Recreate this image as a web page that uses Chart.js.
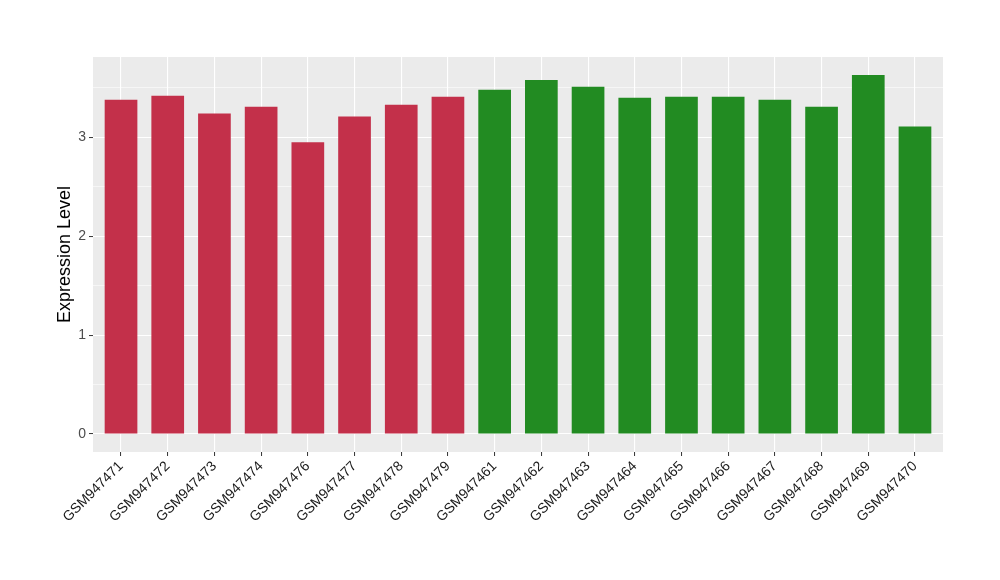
<!DOCTYPE html>
<html>
<head>
<meta charset="utf-8">
<script src="https://cdn.jsdelivr.net/npm/chart.js@4"></script>
<style>
  html, body { margin: 0; padding: 0; background: #fff; }
  #wrap { width: 1000px; height: 580px; }
</style>
</head>
<body>
<div id="wrap"><canvas id="chart" width="1000" height="580"></canvas></div>
<script>
// samples, in plotted order
var samples = ["GSM947471", "GSM947472", "GSM947473", "GSM947474", "GSM947476", "GSM947477",
  "GSM947478", "GSM947479", "GSM947461", "GSM947462", "GSM947463", "GSM947464",
  "GSM947465", "GSM947466", "GSM947467", "GSM947468", "GSM947469", "GSM947470"]
var expression = [3.38, 3.42, 3.24, 3.31, 2.95, 3.21, 3.33, 3.41, 3.48, 3.58,
  3.51, 3.40, 3.41, 3.41, 3.38, 3.31, 3.63, 3.11]
var groups = ["a", "a", "a", "a", "a", "a", "a", "a", "b", "b",
  "b", "b", "b", "b", "b", "b", "b", "b"]
var yTicks = [0, 1, 2, 3]

var groupColors = { a: "#C3304A", b: "#228B22" }

var panelBg = {
  id: "panelBg",
  beforeDraw(chart) {
    var a = chart.chartArea, ctx = chart.ctx
    ctx.save()
    ctx.fillStyle = "#EBEBEB"
    ctx.fillRect(a.left, a.top, a.right - a.left, a.bottom - a.top)
    ctx.restore()
  }
}

var ctx = document.getElementById("chart").getContext("2d")
var chart = new Chart(ctx, {
  type: "bar",
  data: {
    datasets: [{
      data: expression.map((v, i) => ({ x: i, y: v })),
      backgroundColor: groups.map(g => groupColors[g]),
      borderWidth: 0,
      barPercentage: 0.7,
      categoryPercentage: 1.0
    }]
  },
  plugins: [panelBg],
  options: {
    responsive: false,
    animation: false,
    layout: { padding: { top: 57, right: 57, left: 0, bottom: 0 } },
    plugins: { legend: { display: false }, tooltip: { enabled: false } },
    scales: {
      x: {
        type: "linear",
        offset: false,
        min: -0.6,
        max: 17.6,
        afterBuildTicks(scale) {
          scale.ticks = samples.map((s, i) => ({ value: i }))
        },
        afterFit(scale) { scale.height = 128 },
        border: { display: false },
        grid: {
          offset: false,
          color: "#FFFFFF",
          lineWidth: 1.1,
          drawTicks: true,
          tickLength: 4,
          tickColor: "#333333",
          tickWidth: 1
        },
        ticks: {
          autoSkip: false,
          minRotation: 45,
          maxRotation: 45,
          padding: 2,
          color: "#1A1A1A",
          font: { family: "'Liberation Sans', Arial, sans-serif", size: 14 },
          callback: v => samples[v]
        }
      },
      y: {
        min: -0.182,
        max: 3.812,
        afterBuildTicks(scale) {
          var t = []
          for (var v = 0; v <= 3.5; v += 0.5) t.push({ value: v })
          scale.ticks = t
        },
        afterFit(scale) { scale.width = 93 },
        border: { display: false },
        grid: {
          color: "#FFFFFF",
          lineWidth: c => (c.tick && c.tick.value % 1 === 0) ? 1.1 : 0.55,
          drawTicks: true,
          tickLength: 4,
          tickColor: c => (c.tick && c.tick.value % 1 === 0) ? "#333333" : "rgba(0,0,0,0)",
          tickWidth: 1
        },
        ticks: {
          padding: 3,
          color: "#4D4D4D",
          font: { family: "'Liberation Sans', Arial, sans-serif", size: 14 },
          callback: v => (v % 1 === 0 ? String(v) : "")
        },
        title: {
          display: true,
          text: "Expression Level",
          color: "#000000",
          font: { family: "'Liberation Sans', Arial, sans-serif", size: 18 },
          padding: { top: 54, bottom: 0 }
        }
      }
    }
  }
})
</script>
</body>
</html>
